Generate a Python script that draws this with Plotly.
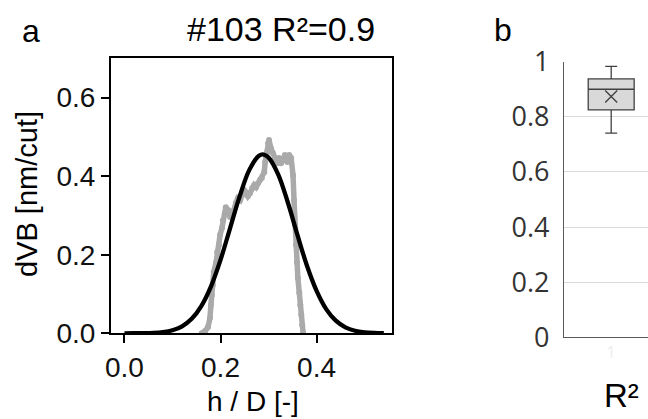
import plotly.graph_objects as go

# ---------------- data ----------------
# panel a: measured profile (gray) and Gaussian fit (black)
meas_x = [0.161, 0.168, 0.174, 0.178, 0.180, 0.182, 0.184, 0.186, 0.191, 0.193,
          0.197, 0.199, 0.203, 0.205, 0.209, 0.211, 0.216, 0.220, 0.224, 0.228,
          0.232, 0.236, 0.241, 0.245, 0.249, 0.253, 0.257, 0.261, 0.266, 0.270,
          0.274, 0.278, 0.282, 0.286, 0.291, 0.293, 0.297, 0.299, 0.301, 0.305,
          0.309, 0.314, 0.318, 0.322, 0.326, 0.330, 0.334, 0.339, 0.343, 0.347,
          0.351, 0.353, 0.355, 0.357, 0.359, 0.361, 0.364, 0.366, 0.368, 0.370,
          0.372]
meas_y = [0.000, 0.006, 0.016, 0.039, 0.072, 0.097, 0.123, 0.156, 0.181, 0.207,
          0.225, 0.250, 0.268, 0.288, 0.304, 0.321, 0.313, 0.296, 0.304, 0.314,
          0.332, 0.344, 0.339, 0.352, 0.365, 0.359, 0.349, 0.356, 0.370, 0.377,
          0.372, 0.382, 0.390, 0.395, 0.410, 0.436, 0.461, 0.484, 0.492, 0.471,
          0.458, 0.446, 0.433, 0.446, 0.433, 0.441, 0.454, 0.436, 0.454, 0.446,
          0.402, 0.339, 0.276, 0.225, 0.181, 0.141, 0.103, 0.072, 0.047, 0.021,
          0.000]

fit_x = [0.00, 0.02, 0.04, 0.06, 0.08, 0.10, 0.12, 0.14, 0.16, 0.18, 0.20,
         0.22, 0.24, 0.26, 0.28, 0.29, 0.30, 0.32, 0.34, 0.36, 0.38, 0.40,
         0.42, 0.44, 0.46, 0.48, 0.50, 0.52, 0.54]
fit_y = [0.0000, 0.0001, 0.0004, 0.0012, 0.0032, 0.0079, 0.0178, 0.0368,
         0.0694, 0.119, 0.187, 0.268, 0.349, 0.416, 0.452, 0.455, 0.4475,
         0.4045, 0.3335, 0.251, 0.172, 0.108, 0.0616, 0.0321, 0.0152, 0.0066,
         0.0026, 0.0009, 0.0003]

a_xticks = [0.0, 0.2, 0.4]
a_yticks = [0.0, 0.2, 0.4, 0.6]

# panel b: box plot statistics of R²
box_cat = ["1"]
box_q1 = [0.825]
box_median = [0.900]
box_q3 = [0.938]
box_low = [0.741]
box_high = [0.983]
box_mean = [0.874]
b_yticks = [0, 0.2, 0.4, 0.6, 0.8, 1]
b_yticktext = ["0", "0.2", "0.4", "0.6", "0.8", "1"]

title_text = "#103 R²=0.9"

# ---------------- layout helpers ----------------
W, H = 648, 419
def px_x(p):
    return p / W
def px_y(p):
    return (H - p) / H

ARIAL = "Liberation Sans, Arial, sans-serif"
OPEN = "Open Sans, sans-serif"

fig = go.Figure()

fig.add_trace(go.Scatter(
    x=meas_x, y=meas_y, mode="lines+markers",
    line=dict(color="#aaaaaa", width=5.5),
    marker=dict(color="#aaaaaa", size=6),
    xaxis="x", yaxis="y", showlegend=False, hoverinfo="skip"))
fig.add_trace(go.Scatter(
    x=fit_x, y=fit_y, mode="lines", line=dict(color="black", width=4.3, shape="spline"),
    xaxis="x", yaxis="y", showlegend=False, hoverinfo="skip"))

fig.add_trace(go.Box(
    x=[0], q1=box_q1, median=box_median, q3=box_q3,
    lowerfence=box_low, upperfence=box_high,
    width=0.487, whiskerwidth=0.26, boxpoints=False,
    fillcolor="#d9d9d9", line=dict(color="#404040", width=1.3),
    xaxis="x2", yaxis="y2", showlegend=False, hoverinfo="skip"))
fig.add_trace(go.Scatter(
    x=[0], y=box_mean, mode="markers",
    marker=dict(symbol="x-thin-open", size=12, color="#404040",
                line=dict(color="#404040", width=1.4)),
    xaxis="x2", yaxis="y2", showlegend=False, hoverinfo="skip"))

axis_a = dict(showgrid=False, zeroline=False, showline=True, linecolor="black",
              linewidth=2, mirror=True, ticks="outside", ticklen=8, tickwidth=2,
              automargin=False,
              tickcolor="black", tickfont=dict(family=ARIAL, size=28, color="#111111"))

fig.update_layout(
    width=W, height=H, autosize=False,
    margin=dict(l=0, r=0, t=0, b=0, pad=0, autoexpand=False),
    paper_bgcolor="white", plot_bgcolor="white",
    xaxis=dict(domain=[px_x(111), px_x(392)], range=[-0.028, 0.557],
               tickvals=a_xticks, tickformat=".1f", anchor="y", **axis_a),
    yaxis=dict(domain=[px_y(333.3), px_y(58.3)], range=[0, 0.7],
               tickvals=a_yticks, tickformat=".1f", anchor="x", **axis_a),
    xaxis2=dict(domain=[px_x(564), 1.0], range=[-0.5, 0.39], anchor="y2",
                automargin=False,
                showgrid=False, zeroline=False, showline=True, linecolor="#595959",
                linewidth=1.3, tickvals=[0], ticktext=box_cat, ticks="",
                tickfont=dict(family=OPEN, size=16, color="#eeeeee")),
    yaxis2=dict(domain=[px_y(337.3), px_y(61.7)], range=[0, 1], anchor="x2",
                automargin=False,
                showgrid=True, gridcolor="#d9d9d9", gridwidth=1.3, zeroline=False,
                showline=True, linecolor="#595959", linewidth=1.3,
                tickvals=b_yticks, ticktext=b_yticktext, ticks="",
                ticklabelstandoff=8,
                tickfont=dict(family=OPEN, size=27, color="#333333")),
    annotations=[
        dict(text="a", x=px_x(20), y=px_y(31), xref="paper", yref="paper",
             xanchor="left", yanchor="middle", showarrow=False,
             font=dict(family=ARIAL, size=32, color="black")),
        dict(text="b", x=px_x(492), y=px_y(30), xref="paper", yref="paper",
             xanchor="left", yanchor="middle", showarrow=False,
             font=dict(family=ARIAL, size=32, color="black")),
        dict(text=title_text, x=px_x(281), y=px_y(29), xref="paper", yref="paper",
             xanchor="center", yanchor="middle", showarrow=False,
             font=dict(family=ARIAL, size=34, color="black")),
        dict(text="dVB [nm/cut]", x=px_x(27), y=px_y(194), xref="paper", yref="paper",
             xanchor="center", yanchor="middle", showarrow=False, textangle=-90,
             font=dict(family=ARIAL, size=29, color="black")),
        dict(text="h / D [-]", x=px_x(253), y=px_y(401), xref="paper", yref="paper",
             xanchor="center", yanchor="middle", showarrow=False,
             font=dict(family=ARIAL, size=28, color="black")),
        dict(text="R²", x=px_x(621), y=px_y(395), xref="paper", yref="paper",
             xanchor="center", yanchor="middle", showarrow=False,
             font=dict(family=ARIAL, size=33, color="black")),
    ],
)

fig.write_html("out.html")
